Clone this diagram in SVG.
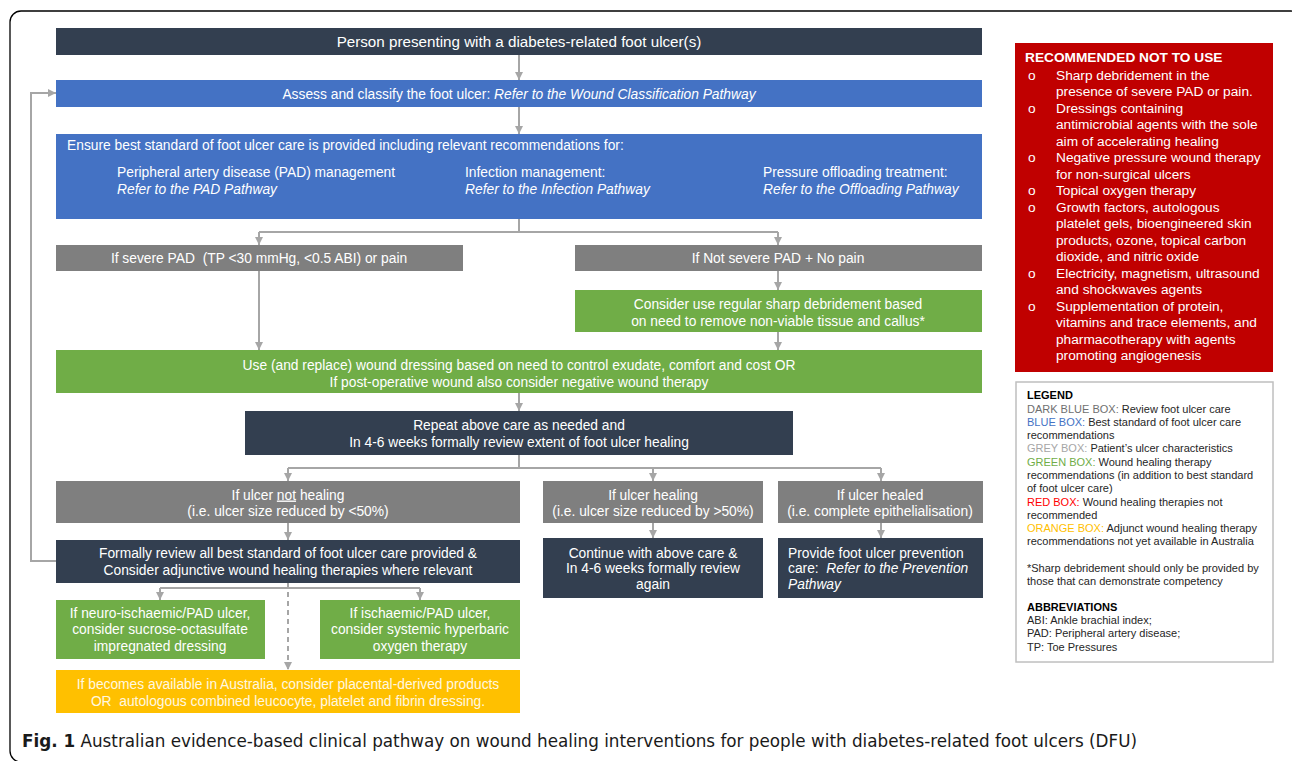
<svg xmlns="http://www.w3.org/2000/svg" width="1292" height="761" viewBox="0 0 1292 761">
<defs>
<marker id="ah" viewBox="0 0 10 10" refX="10" refY="5" markerWidth="9" markerHeight="8" markerUnits="userSpaceOnUse" orient="auto">
<path d="M0,0 L10,5 L0,10 z" fill="#a6a6a6"/>
</marker>
<style>
.t{font-family:"Liberation Sans",Arial,sans-serif;font-size:13.8px;fill:#ffffff}
.c{text-anchor:middle}
.i{font-style:italic}
.dk{fill:#333f50}
.bl{fill:#4472c4}
.gr{fill:#7f7f7f}
.gn{fill:#70ad47}
.or{fill:#ffc000}
.ln{fill:none;stroke:#a6a6a6;stroke-width:2}
.ar{marker-end:url(#ah)}
.rt{font-family:"Liberation Sans",Arial,sans-serif;font-size:13.7px;fill:#ffffff}
.lg{font-family:"Liberation Sans",Arial,sans-serif;font-size:11px;fill:#262626}
</style>
</defs>
<rect x="0" y="0" width="1292" height="761" fill="#ffffff"/>
<rect x="10" y="11" width="1292" height="751" rx="11" fill="none" stroke="#000" stroke-width="1.3"/>

<g id="connectors">
<path class="ln ar" d="M519,55 V80"/>
<path class="ln ar" d="M519,107 V134"/>
<path class="ln" d="M519,219 V232 M259,232 H778"/>
<path class="ln ar" d="M259,232 V245"/>
<path class="ln ar" d="M778,232 V245"/>
<path class="ln ar" d="M778,271 V290"/>
<path class="ln ar" d="M778,332 V350"/>
<path class="ln ar" d="M259,271 V350"/>
<path class="ln ar" d="M519,393 V411"/>
<path class="ln" d="M519,455 V468 M288,468 H881"/>
<path class="ln ar" d="M288,468 V481"/>
<path class="ln ar" d="M653,468 V481"/>
<path class="ln ar" d="M881,468 V481"/>
<path class="ln ar" d="M288,523 V540"/>
<path class="ln ar" d="M653,523 V538"/>
<path class="ln ar" d="M881,523 V538"/>
<path class="ln" d="M160,588 H420"/>
<path class="ln ar" d="M160,588 V600"/>
<path class="ln ar" d="M420,588 V600"/>
<path class="ln ar" d="M288,583 V670" stroke-dasharray="5,4"/>
<path class="ln ar" d="M56,561 H31 V93 H56"/>
</g>

<g id="n-person"><rect class="dk" x="56" y="28" width="926" height="27"/>
<text class="t c" x="519" y="47" style="font-size:15.2px">Person presenting with a diabetes-related foot ulcer(s)</text></g>

<g id="n-assess"><rect class="bl" x="56" y="80" width="926" height="27"/>
<text class="t c" x="519" y="98.5">Assess and classify the foot ulcer: <tspan class="i">Refer to the Wound Classification Pathway</tspan></text></g>

<g id="n-ensure"><rect class="bl" x="56" y="134" width="926" height="85"/>
<text class="t" x="67" y="150">Ensure best standard of foot ulcer care is provided including relevant recommendations for:</text>
<text class="t" x="117" y="177">Peripheral artery disease (PAD) management</text>
<text class="t i" x="117" y="194">Refer to the PAD Pathway</text>
<text class="t" x="465" y="177">Infection management:</text>
<text class="t i" x="465" y="194">Refer to the Infection Pathway</text>
<text class="t" x="763" y="177">Pressure offloading treatment:</text>
<text class="t i" x="763" y="194">Refer to the Offloading Pathway</text></g>

<g id="n-severe"><rect class="gr" x="56" y="245" width="407" height="26"/>
<text class="t c" x="259" y="263" xml:space="preserve">If severe PAD  (TP &lt;30 mmHg, &lt;0.5 ABI) or pain</text></g>

<g id="n-notsevere"><rect class="gr" x="575" y="245" width="407" height="26"/>
<text class="t c" x="778" y="263">If Not severe PAD + No pain</text></g>

<g id="n-debride"><rect class="gn" x="575" y="290" width="407" height="42"/>
<text class="t c" x="778" y="308.5">Consider use regular sharp debridement based</text>
<text class="t c" x="778" y="325.5">on need to remove non-viable tissue and callus*</text></g>

<g id="n-dressing"><rect class="gn" x="56" y="350" width="926" height="43"/>
<text class="t c" x="519" y="369.5">Use (and replace) wound dressing based on need to control exudate, comfort and cost OR</text>
<text class="t c" x="519" y="386.5">If post-operative wound also consider negative wound therapy</text></g>

<g id="n-repeat"><rect class="dk" x="245" y="411" width="548" height="44"/>
<text class="t c" x="519" y="429.5">Repeat above care as needed and</text>
<text class="t c" x="519" y="446.5">In 4-6 weeks formally review extent of foot ulcer healing</text></g>

<g id="n-nothealing"><rect class="gr" x="56" y="481" width="464" height="42"/>
<text class="t c" x="288" y="499.5">If ulcer <tspan text-decoration="underline">not</tspan> healing</text>
<text class="t c" x="288" y="515.5">(i.e. ulcer size reduced by &lt;50%)</text></g>

<g id="n-healing"><rect class="gr" x="543" y="481" width="220" height="42"/>
<text class="t c" x="653" y="499.5">If ulcer healing</text>
<text class="t c" x="653" y="515.5">(i.e. ulcer size reduced by &gt;50%)</text></g>

<g id="n-healed"><rect class="gr" x="778" y="481" width="205" height="42"/>
<text class="t c" x="880" y="499.5">If ulcer healed</text>
<text class="t c" x="880" y="515.5">(i.e. complete epithelialisation)</text></g>

<g id="n-review"><rect class="dk" x="56" y="540" width="464" height="43"/>
<text class="t c" x="288" y="557.5">Formally review all best standard of foot ulcer care provided &amp;</text>
<text class="t c" x="288" y="574.5">Consider adjunctive wound healing therapies where relevant</text></g>

<g id="n-continue"><rect class="dk" x="543" y="538" width="220" height="60"/>
<text class="t c" x="653" y="557.5">Continue with above care &amp;</text>
<text class="t c" x="653" y="573">In 4-6 weeks formally review</text>
<text class="t c" x="653" y="589">again</text></g>

<g id="n-prevent"><rect class="dk" x="778" y="538" width="205" height="60"/>
<text class="t" x="788" y="557.5">Provide foot ulcer prevention</text>
<text class="t" x="788" y="573" xml:space="preserve">care:  <tspan class="i">Refer to the Prevention</tspan></text>
<text class="t i" x="788" y="589">Pathway</text></g>

<g id="n-sucrose"><rect class="gn" x="56" y="600" width="209" height="59"/>
<text class="t c" x="160" y="617.5">If neuro-ischaemic/PAD ulcer,</text>
<text class="t c" x="160" y="634">consider sucrose-octasulfate</text>
<text class="t c" x="160" y="650.5">impregnated dressing</text></g>

<g id="n-hbot"><rect class="gn" x="320" y="600" width="200" height="59"/>
<text class="t c" x="420" y="617.5">If ischaemic/PAD ulcer,</text>
<text class="t c" x="420" y="634">consider systemic hyperbaric</text>
<text class="t c" x="420" y="650.5">oxygen therapy</text></g>

<g id="n-placental"><rect class="or" x="56" y="670" width="464" height="43"/>
<text class="t c" x="288" y="688.5" style="fill:#fff8e0">If becomes available in Australia, consider placental-derived products</text>
<text class="t c" x="288" y="705.5" style="fill:#fff8e0" xml:space="preserve">OR  autologous combined leucocyte, platelet and fibrin dressing.</text></g>

<g id="n-notuse"><rect x="1015" y="43" width="258" height="329" fill="#c00000"/>
<text class="rt" x="1025" y="62" font-weight="bold">RECOMMENDED NOT TO USE</text>
<g class="rt">
<text x="1028" y="79.5">o</text><text x="1056" y="79.5">Sharp debridement in the</text>
<text x="1056" y="96">presence of severe PAD or pain.</text>
<text x="1028" y="112.5">o</text><text x="1056" y="112.5">Dressings containing</text>
<text x="1056" y="129">antimicrobial agents with the sole</text>
<text x="1056" y="145.5">aim of accelerating healing</text>
<text x="1028" y="162">o</text><text x="1056" y="162">Negative pressure wound therapy</text>
<text x="1056" y="178.5">for non-surgical ulcers</text>
<text x="1028" y="195">o</text><text x="1056" y="195">Topical oxygen therapy</text>
<text x="1028" y="211.5">o</text><text x="1056" y="211.5">Growth factors, autologous</text>
<text x="1056" y="228">platelet gels, bioengineered skin</text>
<text x="1056" y="244.5">products, ozone, topical carbon</text>
<text x="1056" y="261">dioxide, and nitric oxide</text>
<text x="1028" y="277.5">o</text><text x="1056" y="277.5">Electricity, magnetism, ultrasound</text>
<text x="1056" y="294">and shockwaves agents</text>
<text x="1028" y="310.5">o</text><text x="1056" y="310.5">Supplementation of protein,</text>
<text x="1056" y="327">vitamins and trace elements, and</text>
<text x="1056" y="343.5">pharmacotherapy with agents</text>
<text x="1056" y="360">promoting angiogenesis</text>
</g></g>

<g id="n-legend"><rect x="1016" y="382" width="257" height="280" fill="#ffffff" stroke="#bfbfbf" stroke-width="1.5"/>
<g class="lg">
<text x="1027" y="399" font-weight="bold" style="fill:#000">LEGEND</text>
<text x="1027" y="412.5"><tspan style="fill:#6f6f6f">DARK BLUE BOX:</tspan> Review foot ulcer care</text>
<text x="1027" y="426"><tspan style="fill:#4472c4">BLUE BOX:</tspan> Best standard of foot ulcer care</text>
<text x="1027" y="439">recommendations</text>
<text x="1027" y="452"><tspan style="fill:#a6a6a6">GREY BOX:</tspan> Patient’s ulcer characteristics</text>
<text x="1027" y="465.5"><tspan style="fill:#70ad47">GREEN BOX:</tspan> Wound healing therapy</text>
<text x="1027" y="479">recommendations (in addition to best standard</text>
<text x="1027" y="492">of foot ulcer care)</text>
<text x="1027" y="505.5"><tspan style="fill:#ff0000">RED BOX:</tspan> Wound healing therapies not</text>
<text x="1027" y="519">recommended</text>
<text x="1027" y="532"><tspan style="fill:#ffc000">ORANGE BOX:</tspan> Adjunct wound healing therapy</text>
<text x="1027" y="545">recommendations not yet available in Australia</text>
<text x="1027" y="572">*Sharp debridement should only be provided by</text>
<text x="1027" y="585">those that can demonstrate competency</text>
<text x="1027" y="611" font-weight="bold" style="fill:#000">ABBREVIATIONS</text>
<text x="1027" y="624">ABI: Ankle brachial index;</text>
<text x="1027" y="637">PAD: Peripheral artery disease;</text>
<text x="1027" y="651">TP: Toe Pressures</text>
</g></g>

<g id="caption">
<text x="22" y="747" font-family="'DejaVu Sans Condensed','Liberation Sans',sans-serif" font-size="17" fill="#1a1a1a" textLength="1115" lengthAdjust="spacingAndGlyphs"><tspan font-weight="bold">Fig. 1</tspan> Australian evidence-based clinical pathway on wound healing interventions for people with diabetes-related foot ulcers (DFU)</text>
</g>
</svg>
